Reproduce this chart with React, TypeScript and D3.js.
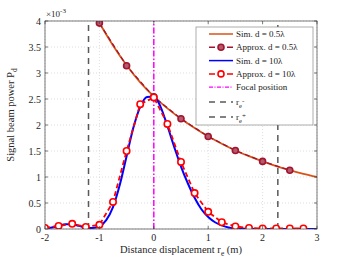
import React from 'react';
import * as d3 from 'd3';

// Sim. d = 0.5λ (orange)
const simX05 = [-1, -0.75, -0.5, -0.25, 0, 0.25, 0.5, 0.75, 1, 1.25, 1.5, 1.75, 2, 2.25, 2.5, 2.75, 3];
const simY05 = [3.96, 3.53, 3.15, 2.82, 2.55, 2.32, 2.12, 1.94, 1.78, 1.64, 1.51, 1.40, 1.30, 1.21, 1.13, 1.06, 1.0];

// Approx. d = 0.5λ (dark red markers)
const approxX05 = [-1, -0.5, 0, 0.5, 1, 1.5, 2, 2.5];
const approxY05 = [3.96, 3.14, 2.54, 2.12, 1.78, 1.51, 1.30, 1.13];

// Sim. d = 10λ (blue)
const simX10 = [-2, -1.875, -1.75, -1.625, -1.5, -1.375, -1.25, -1.125, -1, -0.875, -0.75, -0.625, -0.5, -0.375, -0.25, -0.125, 0, 0.125, 0.25, 0.375, 0.5, 0.625, 0.75, 0.875, 1, 1.125, 1.25, 1.375, 1.5, 1.75, 2, 2.5, 3];
const simY10 = [0.01, 0.03, 0.06, 0.09, 0.09, 0.06, 0.03, 0.02, 0.05, 0.17, 0.42, 0.85, 1.40, 1.95, 2.35, 2.54, 2.55, 2.35, 1.98, 1.58, 1.20, 0.88, 0.60, 0.38, 0.23, 0.13, 0.07, 0.03, 0.015, 0.005, 0, 0, 0];

// Approx. d = 10λ (red open markers)
const approxX10 = [-2, -1.75, -1.5, -1.25, -1, -0.75, -0.5, -0.25, 0, 0.25, 0.5, 0.75, 1, 1.25, 1.5, 1.75, 2, 2.25, 2.5, 2.75];
const approxY10 = [0.02, 0.06, 0.10, 0.04, 0.08, 0.52, 1.50, 2.40, 2.53, 2.02, 1.29, 0.69, 0.33, 0.13, 0.05, 0.02, 0.01, 0.01, 0.01, 0.01];

const focalX = 0;
const reMinus = -1.2;
const rePlus = 2.28;

const xTicks = [-2, -1, 0, 1, 2, 3];
const yTicks = [0, 0.5, 1, 1.5, 2, 2.5, 3, 3.5, 4];

const legendLabels = ['Sim. d = 0.5λ', 'Approx. d = 0.5λ', 'Sim. d = 10λ', 'Approx. d = 10λ', 'Focal position', 'r_e-', 'r_e+'];

const W = 350;
const H = 263;
const M = { left: 45, right: 33, top: 21, bottom: 34 };
const FONT = '"Liberation Serif", "Times New Roman", serif';

const C_ORANGE = '#D95319';
const C_DARKRED = '#A2142F';
const C_BLUE = '#0000FF';
const C_RED = '#FF0000';
const C_MAGENTA = '#FF00FF';
const C_GRAY = '#595959';
const C_AXIS = '#404040';

export default function App() {
  const x = d3.scaleLinear().domain([-2, 3]).range([M.left, W - M.right]);
  const y = d3.scaleLinear().domain([0, 4]).range([H - M.bottom, M.top]);
  const x0 = x.range()[0], x1 = x.range()[1];
  const y0 = y.range()[0], y1 = y.range()[1];

  const mk = (xs: number[], ys: number[], curve: d3.CurveFactory) =>
    d3.line<number>()
      .x((_, i) => x(xs[i]))
      .y((v) => y(v))
      .curve(curve)(ys) || '';

  const pSim05 = mk(simX05, simY05, d3.curveMonotoneX);
  const pApp05 = mk(approxX05, approxY05, d3.curveLinear);
  const pSim10 = mk(simX10, simY10, d3.curveMonotoneX);
  const pApp10 = mk(approxX10, approxY10, d3.curveLinear);

  const legX = 196, legY = 27, legW = 117, legH = 98;
  const rowY = (i: number) => legY + 7 + i * 13.3 + (i >= 5 ? (i - 4) * 1.6 : 0);
  const sx0 = legX + 13, sx1 = legX + 37, tx = legX + 40;

  const legendSample = (i: number) => {
    const yy = rowY(i);
    switch (i) {
      case 0:
        return <line x1={sx0} x2={sx1} y1={yy} y2={yy} stroke={C_ORANGE} strokeWidth={1.5} />;
      case 1:
        return (
          <g>
            <line x1={sx0} x2={sx1} y1={yy} y2={yy} stroke={C_DARKRED} strokeWidth={1.5} strokeDasharray="6,3" />
            <circle cx={(sx0 + sx1) / 2} cy={yy} r={3} fill="#b35a6c" stroke={C_DARKRED} strokeWidth={1.6} />
          </g>
        );
      case 2:
        return <line x1={sx0} x2={sx1} y1={yy} y2={yy} stroke={C_BLUE} strokeWidth={1.5} />;
      case 3:
        return (
          <g>
            <line x1={sx0} x2={sx1} y1={yy} y2={yy} stroke={C_RED} strokeWidth={1.5} strokeDasharray="6,3" />
            <circle cx={(sx0 + sx1) / 2} cy={yy} r={3} fill="#fff" stroke={C_RED} strokeWidth={1.6} />
          </g>
        );
      case 4:
        return <line x1={sx0} x2={sx1} y1={yy} y2={yy} stroke={C_MAGENTA} strokeWidth={1.3} strokeDasharray="4,1.5,1,1.5" />;
      default:
        return <line x1={sx0} x2={sx1} y1={yy} y2={yy} stroke={C_GRAY} strokeWidth={1.5} strokeDasharray="6,5" />;
    }
  };

  const legendText = (label: string, i: number) => {
    const yy = rowY(i) + 3;
    if (label.startsWith('r_e')) {
      return (
        <text x={tx} y={yy} fontSize={9} fill="#222" fontFamily={FONT}>
          r<tspan fontSize={6.5} dy={2.5}>e</tspan>
          <tspan fontSize={7} dy={-5}>{label.slice(3)}</tspan>
        </text>
      );
    }
    return (
      <text x={tx} y={yy} fontSize={9} fill="#222" fontFamily={FONT}>{label}</text>
    );
  };

  return (
    <div style={{ position: 'fixed', left: 0, top: 0 }}>
      <svg width={W} height={H} style={{ display: 'block', background: '#fff' }}>
        <defs>
          <clipPath id="plotClip">
            <rect x={x0} y={y1} width={x1 - x0} height={y0 - y1} />
          </clipPath>
        </defs>
        {/* grid */}
        <g stroke="#c8c8c8" strokeWidth={0.6} strokeDasharray="1,2">
          {xTicks.map((t) => (
            <line key={'gx' + t} x1={x(t)} x2={x(t)} y1={y0} y2={y1} />
          ))}
          {yTicks.map((t) => (
            <line key={'gy' + t} x1={x0} x2={x1} y1={y(t)} y2={y(t)} />
          ))}
        </g>

        <g clipPath="url(#plotClip)" fill="none">
          <line x1={x(reMinus)} x2={x(reMinus)} y1={y0} y2={y1} stroke={C_GRAY} strokeWidth={1.5} strokeDasharray="6,5" />
          <line x1={x(rePlus)} x2={x(rePlus)} y1={y0} y2={y1} stroke={C_GRAY} strokeWidth={1.5} strokeDasharray="6,5" />
          <line x1={x(focalX)} x2={x(focalX)} y1={y0} y2={y1} stroke={C_MAGENTA} strokeWidth={1.5} strokeDasharray="6,2,1.5,2" />
          <path d={pSim05} stroke={C_ORANGE} strokeWidth={1.8} />
          <path d={pApp05} stroke={C_DARKRED} strokeWidth={1.3} strokeDasharray="5,3" />
          <path d={pSim10} stroke={C_BLUE} strokeWidth={2} />
          <path d={pApp10} stroke={C_RED} strokeWidth={1.8} strokeDasharray="5,3" />
          {approxX05.map((v, i) => (
            <circle key={'a05' + i} cx={x(v)} cy={y(approxY05[i])} r={3} fill="#b35a6c" stroke={C_DARKRED} strokeWidth={1.6} />
          ))}
          {approxX10.map((v, i) => (
            <circle key={'a10' + i} cx={x(v)} cy={y(approxY10[i])} r={3.2} fill="#fff" stroke={C_RED} strokeWidth={1.6} />
          ))}
        </g>

        {/* axes box and ticks */}
        <rect x={x0} y={y1} width={x1 - x0} height={y0 - y1} fill="none" stroke={C_AXIS} strokeWidth={0.7} />
        <g stroke={C_AXIS} strokeWidth={0.7}>
          {xTicks.map((t) => (
            <g key={'tx' + t}>
              <line x1={x(t)} x2={x(t)} y1={y0} y2={y0 - 3} />
              <line x1={x(t)} x2={x(t)} y1={y1} y2={y1 + 3} />
            </g>
          ))}
          {yTicks.map((t) => (
            <g key={'ty' + t}>
              <line x1={x0} x2={x0 + 3} y1={y(t)} y2={y(t)} />
              <line x1={x1} x2={x1 - 3} y1={y(t)} y2={y(t)} />
            </g>
          ))}
        </g>
        <g fontFamily={FONT} fontSize={10} fill="#262626">
          {xTicks.map((t) => (
            <text key={'lx' + t} x={x(t)} y={y0 + 12} textAnchor="middle">{t < 0 ? '-' + Math.abs(t) : String(t)}</text>
          ))}
          {yTicks.map((t) => (
            <text key={'ly' + t} x={x0 - 4} y={y(t) + 3.5} textAnchor="end">{String(t)}</text>
          ))}
          <text x={x0 + 1} y={y1 - 4} fontSize={9}>
            ×10<tspan fontSize={7} dy={-4}>-3</tspan>
          </text>
          <text x={(x0 + x1) / 2} y={H - 10} textAnchor="middle" fontSize={10.5}>
            Distance displacement r<tspan fontSize={7.5} dy={3}>e</tspan>
            <tspan dy={-3}> (m)</tspan>
          </text>
          <text transform={`translate(14,${(y0 + y1) / 2 - 10}) rotate(-90)`} textAnchor="middle" fontSize={10.5}>
            Signal beam power P<tspan fontSize={7.5} dy={3}>d</tspan>
          </text>
        </g>

        {/* legend */}
        <rect x={legX} y={legY} width={legW} height={legH} fill="#fff" stroke="#8a8a8a" strokeWidth={0.7} />
        {legendLabels.map((lab, i) => (
          <g key={'lg' + i}>
            {legendSample(i)}
            {legendText(lab, i)}
          </g>
        ))}
      </svg>
    </div>
  );
}
